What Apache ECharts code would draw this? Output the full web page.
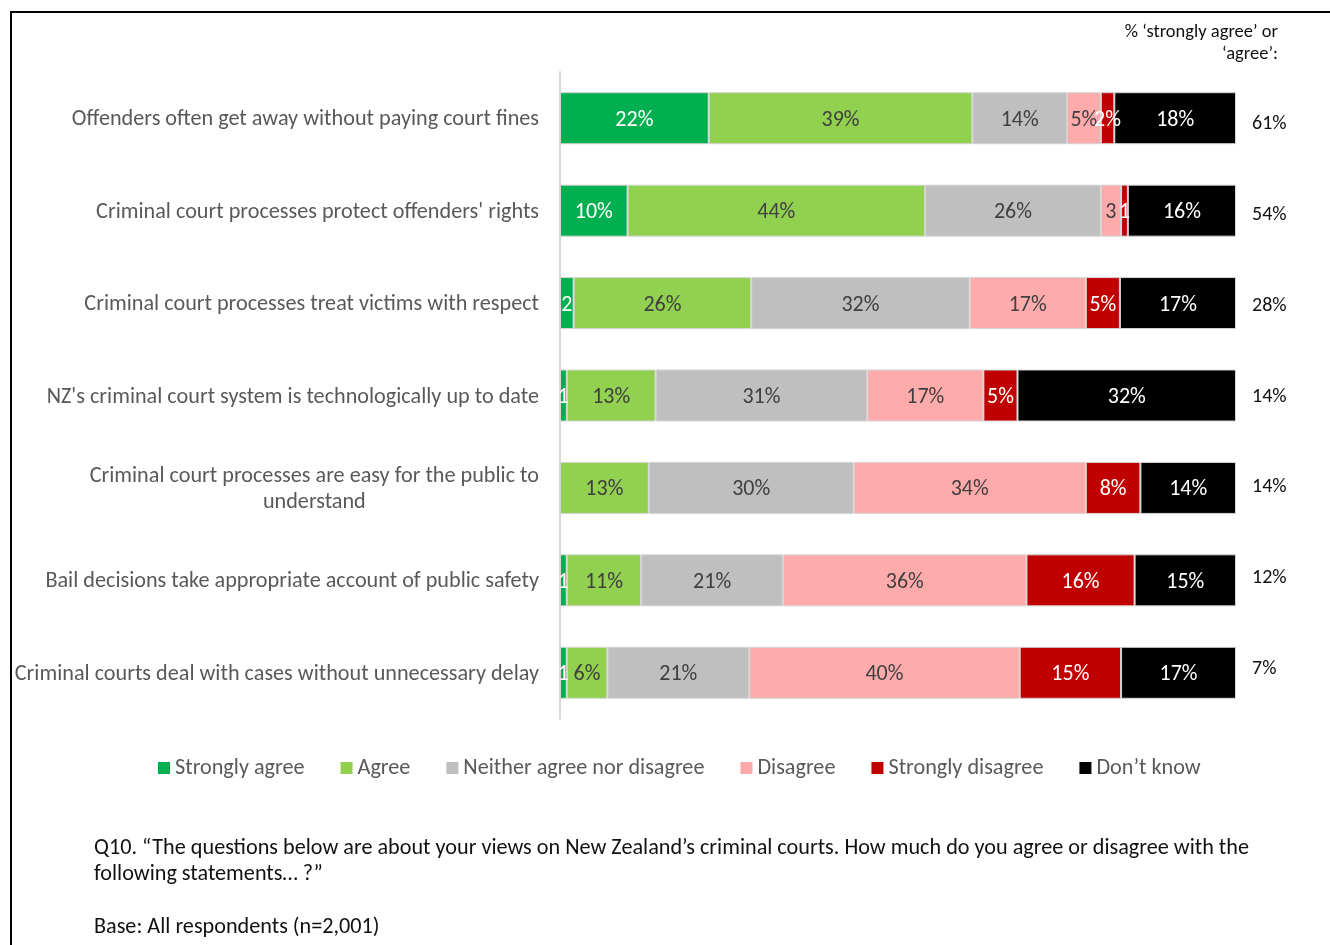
<!DOCTYPE html>
<html>
<head>
<meta charset="utf-8">
<style>
  html, body { margin: 0; padding: 0; background: #fff; }
  #chart { width: 1330px; height: 945px; }
</style>
<script src="https://cdn.jsdelivr.net/npm/echarts@6/dist/echarts.min.js"></script>
</head>
<body>
<div id="chart"></div>
<script>
// Statements (top to bottom)
const categories = [
  'Offenders often get away without paying court fines',
  "Criminal court processes protect offenders' rights",
  'Criminal court processes treat victims with respect',
  "NZ's criminal court system is technologically up to date",
  'Criminal court processes are easy for the public to\nunderstand',
  'Bail decisions take appropriate account of public safety',
  'Criminal courts deal with cases without unnecessary delay'
];

const seriesNames = ['Strongly agree', 'Agree', 'Neither agree nor disagree', 'Disagree', 'Strongly disagree', 'Don\u2019t know'];

// Response shares, % of respondents
const stronglyAgree    = [22, 10, 2, 1, 0, 1, 1];
const agree            = [39, 44, 26, 13, 13, 11, 6];
const neither          = [14, 26, 32, 31, 30, 21, 21];
const disagree         = [5, 3, 17, 17, 34, 36, 40];
const stronglyDisagree = [2, 1, 5, 5, 8, 16, 15];
const dontKnow         = [18, 16, 17, 32, 14, 15, 17];

// Net 'strongly agree' or 'agree'
const netAgree = [61, 54, 28, 14, 14, 12, 7];

// Narrow segments whose label is printed without the % sign: [row, series]
const bareLabels = [[1, 3], [1, 4], [2, 0], [3, 0], [5, 0], [6, 0]];

const colors = ['#00B050', '#92D050', '#BFBFBF', '#FFABAB', '#C00000', '#000000'];
const labelColors = ['#ffffff', '#404040', '#404040', '#404040', '#ffffff', '#ffffff'];

const FONT = 'Carlito, Lato, "Open Sans", sans-serif';
const TEXT_SIZE = 22.2;

const allSeries = [stronglyAgree, agree, neither, disagree, stronglyDisagree, dontKnow];
// each bar spans the full width: shares are scaled by the row total
const rowTotals = categories.map((_, r) => allSeries.reduce((s, arr) => s + arr[r], 0));

const isBare = (r, s) => bareLabels.some(p => p[0] === r && p[1] === s);

const series = allSeries.map((vals, s) => ({
  name: seriesNames[s],
  type: 'bar',
  stack: 'total',
  barWidth: 52,
  itemStyle: { color: colors[s], borderColor: '#d4d4d4', borderWidth: 1 },
  label: {
    show: true,
    position: 'inside',
    offset: [0, 2],
    color: labelColors[s],
    fontFamily: FONT,
    fontSize: 22,
    textBorderWidth: 0,
    formatter: p => {
      const v = vals[p.dataIndex];
      if (!v) return '';
      return isBare(p.dataIndex, s) ? String(v) : v + '%';
    }
  },
  emphasis: { disabled: true },
  data: vals.map((v, r) => v / rowTotals[r] * 100)
}));

const chart = echarts.init(document.getElementById('chart'), null, { renderer: 'canvas' });

chart.setOption({
  animation: false,
  backgroundColor: '#ffffff',
  grid: [
    { left: 560, right: 94, top: 72, bottom: 226 },
    // column of net-agree figures on the right
    { left: 560, right: 94, top: 78.6, bottom: 230.6 }
  ],
  xAxis: [
    { type: 'value', min: 0, max: 100, show: false, gridIndex: 0 },
    { type: 'value', min: 0, max: 100, show: false, gridIndex: 1 }
  ],
  yAxis: [
    {
      type: 'category',
      gridIndex: 0,
      data: categories,
      inverse: true,
      axisLine: { show: true, lineStyle: { color: '#d9d9d9', width: 2 } },
      axisTick: { show: false },
      axisLabel: {
        margin: 21,
        align: 'right',
        formatter: v => v.split('\n').map(l => '{c|' + l + '}').join('\n'),
        rich: {
          c: { align: 'center', color: '#595959', fontFamily: FONT, fontSize: TEXT_SIZE, lineHeight: 26, padding: [3, 0, 0, 0] }
        }
      }
    },
    {
      type: 'category',
      gridIndex: 1,
      data: categories,
      inverse: true,
      position: 'right',
      axisLine: { show: false },
      axisTick: { show: false },
      axisLabel: {
        margin: 16,
        align: 'left',
        color: '#111111',
        fontFamily: FONT,
        fontSize: 20,
        formatter: (v, i) => netAgree[i] + '%'
      }
    }
  ],
  legend: {
    left: 158,
    top: 757,
    padding: 0,
    itemWidth: 12,
    itemHeight: 12,
    itemGap: 36,
    icon: 'rect',
    itemStyle: { borderWidth: 0 },
    textStyle: { color: '#595959', fontFamily: FONT, fontSize: TEXT_SIZE, padding: [3, 0, 0, 0] },
    data: seriesNames
  },
  series: series,
  graphic: [
    {
      type: 'rect',
      silent: true,
      shape: { x: 11, y: 12, width: 1400, height: 1000 },
      style: { fill: 'none', stroke: '#000', lineWidth: 2 }
    },
    {
      type: 'text',
      silent: true,
      x: 1278,
      y: 21,
      style: {
        text: '% \u2018strongly agree\u2019 or\n\u2018agree\u2019:',
        align: 'right',
        verticalAlign: 'top',
        fill: '#111111',
        fontFamily: FONT,
        fontSize: 18.5,
        lineHeight: 22
      }
    },
    {
      type: 'text',
      silent: true,
      x: 94,
      y: 835,
      style: {
        text: 'Q10. \u201CThe questions below are about your views on New Zealand\u2019s criminal courts. How much do you agree or disagree with the\nfollowing statements\u2026 ?\u201D\n\nBase: All respondents (n=2,001)',
        verticalAlign: 'top',
        fill: '#111111',
        fontFamily: FONT,
        fontSize: TEXT_SIZE,
        lineHeight: 26.5
      }
    }
  ]
});
</script>
</body>
</html>
